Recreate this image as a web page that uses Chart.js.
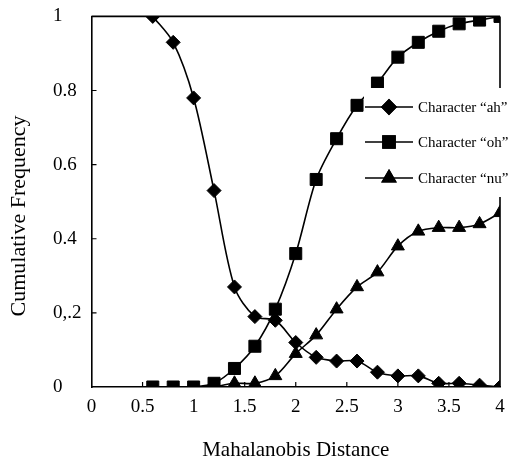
<!DOCTYPE html>
<html><head><meta charset="utf-8">
<script src="https://cdn.jsdelivr.net/npm/chart.js@4"></script>
<style>html,body{margin:0;padding:0;background:#fff} #wrap{width:515px;height:463px;position:relative}</style>
</head><body><div id="wrap"><canvas id="c"></canvas></div>
<script>
const distances = [0.6,0.8,1.0,1.2,1.4,1.6,1.8,2.0,2.2,2.4,2.6,2.8,3.0,3.2,3.4,3.6,3.8,4.0];
const ahValues = [1.0,0.93,0.78,0.53,0.27,0.19,0.18,0.12,0.08,0.07,0.07,0.04,0.03,0.03,0.01,0.01,0.005,0];
const ohValues = [0,0,0,0.01,0.05,0.11,0.21,0.36,0.56,0.67,0.76,0.82,0.89,0.93,0.96,0.98,0.99,1.0];
const nuValues = [null,null,null,0,0.01,0.01,0.03,0.09,0.14,0.21,0.27,0.31,0.38,0.42,0.43,0.43,0.44,0.47];
const seriesNames = ['Character \u201cah\u201d','Character \u201coh\u201d','Character \u201cnu\u201d'];
const xTickLabels = ['0','0.5','1','1.5','2','2.5','3','3.5','4'];
const yTickLabels = ['0','0,.2','0.4','0.6','0.8','1'];
const xTitle = 'Mahalanobis Distance';
const yTitle = 'Cumulative Frequency';

const FONT = "'Liberation Serif', 'Times New Roman', serif";
const styles = [
  {pointStyle:'rectRot', radius:7},
  {pointStyle:'rect', radius:8.5},
  {pointStyle:'triangle', radius:7.5}
];
function pts(vals){ return distances.map((d,i)=>({x:d,y:vals[i]})); }
const seriesValues = [ahValues, ohValues, nuValues];

const datasets = seriesValues.map((v,i)=>({
  label: seriesNames[i],
  data: pts(v),
  borderColor:'#000', backgroundColor:'#000',
  borderWidth:1.6,
  pointStyle: styles[i].pointStyle,
  pointRadius: styles[i].radius,
  pointBorderWidth:1,
  pointBackgroundColor:'#000', pointBorderColor:'#000',
  tension:0.3,
  spanGaps:false
}));

const framePlugin = {
  id:'frame',
  beforeDatasetsDraw(chart){
    const {ctx, chartArea:a, scales:{x,y}} = chart;
    ctx.save();
    ctx.strokeStyle='#000'; ctx.lineWidth=1.6;
    ctx.beginPath();
    ctx.moveTo(a.left, a.top); ctx.lineTo(a.right, a.top);
    ctx.moveTo(a.right, a.top); ctx.lineTo(a.right, a.bottom);
    ctx.stroke();
    ctx.lineWidth=1.2;
    ctx.beginPath();
    x.ticks.forEach(t=>{ if(t.value>0 && t.value<4){ const px=x.getPixelForValue(t.value); ctx.moveTo(px,a.bottom); ctx.lineTo(px,a.bottom-5);} });
    y.ticks.forEach(t=>{ if(t.value>0 && t.value<1){ const py=y.getPixelForValue(t.value); ctx.moveTo(a.left,py); ctx.lineTo(a.left+5,py);} });
    ctx.stroke();
    ctx.restore();
  },
  afterDraw(chart){
    const {ctx} = chart;
    ctx.save();
    ctx.fillStyle='#000';
    ctx.font = "22px " + FONT;
    ctx.textAlign='center'; ctx.textBaseline='middle';
    ctx.translate(19, 216); ctx.rotate(-Math.PI/2);
    ctx.fillText(yTitle, 0, 0);
    ctx.restore();
    ctx.save();
    ctx.fillStyle='#fff';
    ctx.fillRect(364, 88, 515-364, 197-88);
    const rows=[107,142,178];
    chart.data.datasets.forEach((ds,i)=>{
      const yy=rows[i];
      ctx.strokeStyle='#000'; ctx.lineWidth=1.6;
      ctx.beginPath(); ctx.moveTo(365,yy); ctx.lineTo(413,yy); ctx.stroke();
      ctx.fillStyle='#000';
      Chart.helpers.drawPoint(ctx,{pointStyle:ds.pointStyle, radius:ds.pointRadius, borderWidth:1, rotation:0}, 389, yy);
      ctx.fill(); ctx.stroke();
      ctx.font="15px " + FONT;
      ctx.textAlign='left'; ctx.textBaseline='middle';
      ctx.fillText(ds.label, 418, yy+1);
    });
    ctx.restore();
  }
};

new Chart(document.getElementById('c'), {
  type:'line',
  data:{datasets},
  plugins:[framePlugin],
  options:{
    responsive:true, maintainAspectRatio:false, animation:false,
    layout:{padding:{left:53, right:15, top:8, bottom:0}},
    plugins:{legend:{display:false}, tooltip:{enabled:false}},
    scales:{
      x:{type:'linear', min:0, max:4,
        grid:{display:false, drawTicks:false},
        border:{display:true, color:'#000', width:1.6},
        ticks:{stepSize:0.5, padding:9, color:'#000', font:{family:FONT, size:19},
          maxRotation:0, autoSkip:false,
          callback:(v,i)=>xTickLabels[i]},
        title:{display:true, text:xTitle, color:'#000', font:{family:FONT, size:21}, padding:{top:10, bottom:0}}
      },
      y:{type:'linear', min:0, max:1,
        grid:{display:false, drawTicks:false},
        border:{display:true, color:'#000', width:1.6},
        ticks:{stepSize:0.2, padding:5, color:'#000', crossAlign:'far', font:{family:FONT, size:19},
          callback:(v,i)=>yTickLabels[i]}
      }
    }
  }
});
</script></body></html>
